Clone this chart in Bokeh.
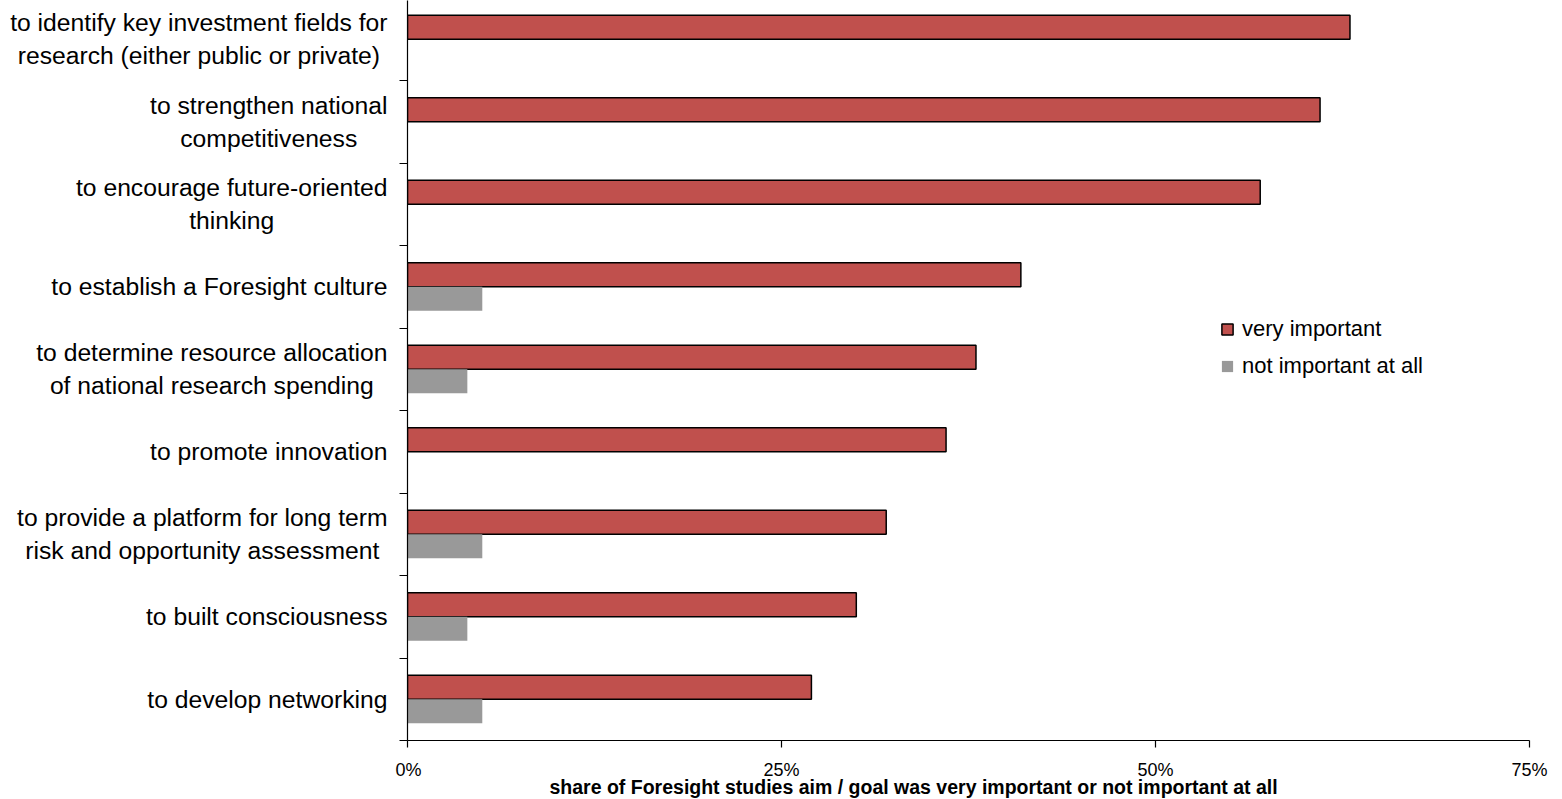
from bokeh.plotting import figure
from bokeh.layouts import row
from bokeh.models import Range1d, FixedTicker, PrintfTickFormatter, Title, Legend, LegendItem, ColumnDataSource
from bokeh.core.properties import value
from bokeh.embed import file_html
from bokeh.resources import INLINE

categories = [
    "to identify key investment fields for\nresearch (either public or private)",
    "to strengthen national\ncompetitiveness",
    "to encourage future-oriented\nthinking",
    "to establish a Foresight culture",
    "to determine resource allocation\nof national research spending",
    "to promote innovation",
    "to provide a platform for long term\nrisk and opportunity assessment",
    "to built consciousness",
    "to develop networking",
]
very_important = [63, 61, 57, 41, 38, 36, 32, 30, 27]
not_important = [0, 0, 0, 5, 4, 0, 5, 4, 5]
x_ticks = [0, 25, 50, 75]
x_title = "share of Foresight studies aim / goal was very  important or not important at all"

FONT = "Liberation Sans"
n = len(categories)
centers = [n - k - 0.5 for k in range(n)]
boundaries = [float(i) for i in range(n + 1)]
BAR_H = 0.29
LABEL_W = 395

y_range = Range1d(0, 8.97)

red_src = ColumnDataSource(dict(y=[c + BAR_H / 2 for c in centers], v=very_important))
gray_src = ColumnDataSource(dict(y=[c - BAR_H / 2 for c in centers], v=not_important))
lab_src = ColumnDataSource(dict(y=centers, t=categories))

# ---- category label column (lines centred on each other, block right-aligned)
lab = figure(width=LABEL_W, height=799, output_backend="svg", toolbar_location=None,
             x_range=Range1d(0, LABEL_W), y_range=y_range,
             x_axis_location=None, y_axis_location=None,
             min_border_left=0, min_border_right=0, min_border_top=0, min_border_bottom=59)
lab.outline_line_color = None
lab.xgrid.visible = False
lab.ygrid.visible = False
lab.text(x=LABEL_W - 8, y="y", text="t", source=lab_src, anchor="center_right",
         text_align="center", text_baseline="middle", text_font=value(FONT),
         text_font_size="24.7px", text_color="black", text_line_height=1.23)

# ---- main chart
p = figure(width=1562 - LABEL_W, height=799, output_backend="svg", toolbar_location=None,
           x_range=Range1d(0, 75), y_range=y_range,
           min_border_left=12, min_border_right=33, min_border_top=0, min_border_bottom=59)
p.outline_line_color = None
p.xgrid.visible = False
p.ygrid.visible = False
p.background_fill_color = "white"

r_red = p.hbar(y="y", right="v", left=0, height=BAR_H, source=red_src,
               fill_color="#C0504D", line_color="black", line_width=1.5)
r_gray = p.hbar(y="y", right="v", left=0, height=BAR_H, source=gray_src,
                fill_color="#999999", line_color=None)

# x axis
xa = p.xaxis[0]
xa.ticker = FixedTicker(ticks=x_ticks, minor_ticks=[])
xa.formatter = PrintfTickFormatter(format="%d%%")
xa.major_tick_out = 7
xa.major_tick_in = 0
xa.minor_tick_out = 0
xa.minor_tick_in = 0
xa.axis_line_color = "black"
xa.axis_line_width = 1.2
xa.major_tick_line_width = 1.2
xa.major_label_standoff = 12
xa.major_label_text_font = FONT
xa.major_label_text_font_size = "18px"
xa.major_label_text_color = "black"

# y axis: line and separator ticks between categories
ya = p.yaxis[0]
ya.ticker = FixedTicker(ticks=[], minor_ticks=boundaries)
ya.major_tick_out = 0
ya.major_tick_in = 0
ya.minor_tick_out = 8
ya.minor_tick_in = 0
ya.minor_tick_line_color = "black"
ya.minor_tick_line_width = 1.2
ya.axis_line_color = "black"
ya.axis_line_width = 1.2
ya.major_label_standoff = 0

# axis title (offset left of frame centre as in the original)
p.add_layout(Title(text=x_title, align="left", offset=142, standoff=-13, vertical_align="top",
                   text_font=FONT, text_font_size="19.5px", text_font_style="bold",
                   text_color="black"), "below")

legend = Legend(items=[LegendItem(label="very important", renderers=[r_red]),
                       LegendItem(label="not important at all", renderers=[r_gray])],
                location=(813, 359), orientation="vertical")
legend.label_text_font = FONT
legend.label_text_font_size = "22px"
legend.label_text_color = "black"
legend.glyph_width = 14
legend.glyph_height = 14
legend.label_standoff = 8
legend.label_height = 31
legend.spacing = 6
legend.padding = 4
legend.margin = 0
legend.border_line_color = None
legend.background_fill_color = "white"
legend.background_fill_alpha = 1.0
p.add_layout(legend, "center")

layout = row(lab, p, spacing=0)
open("out.html", "w").write(file_html(layout, INLINE))
